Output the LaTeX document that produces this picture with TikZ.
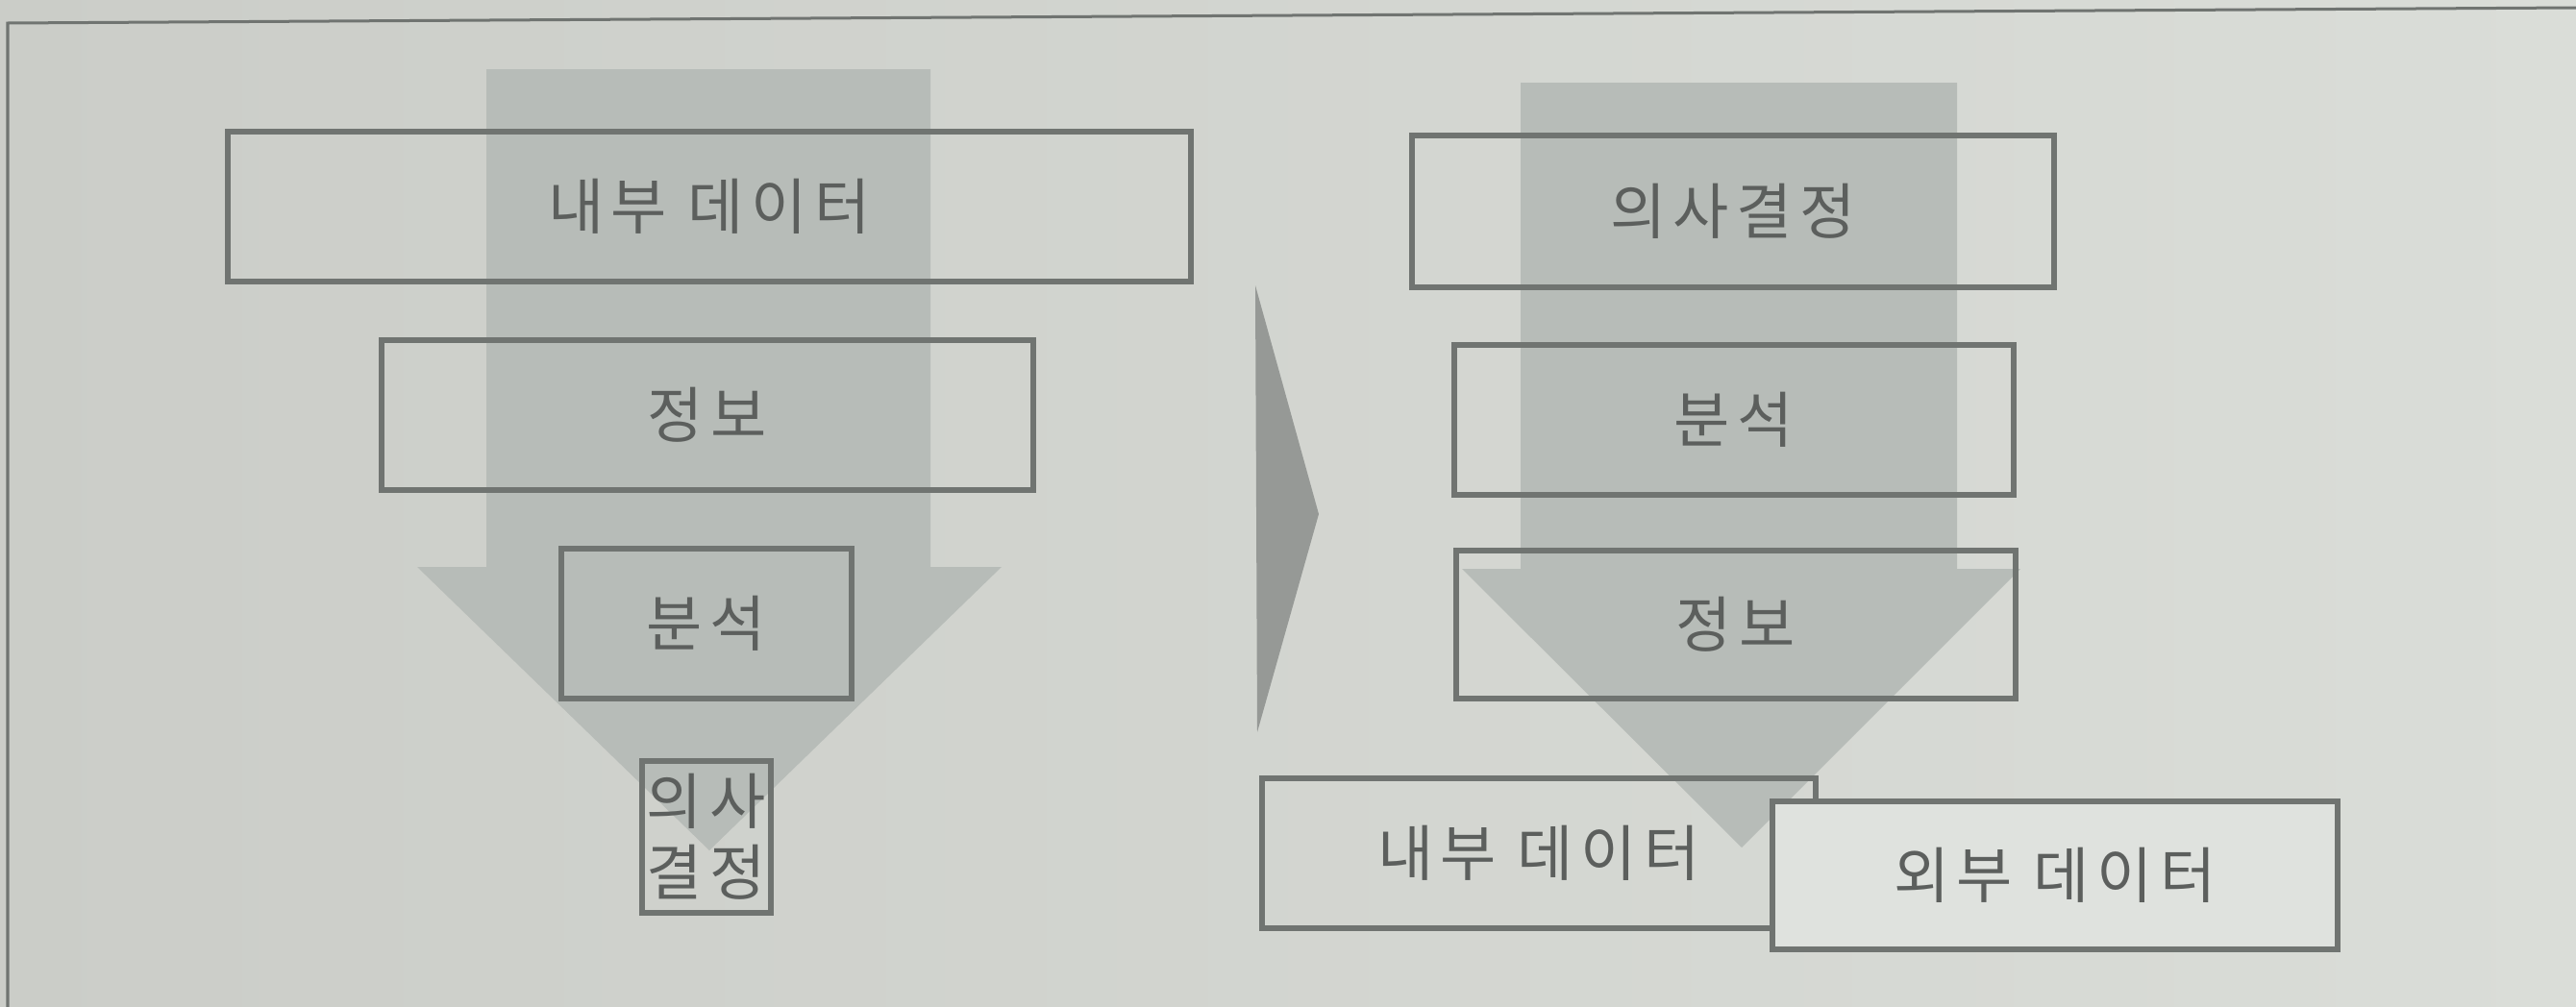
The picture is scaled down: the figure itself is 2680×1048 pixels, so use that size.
\documentclass[tikz,border=0pt]{standalone}
\usepackage{fontspec}
\newfontfamily\kr[LetterSpace=12]{Noto Sans CJK KR}
\definecolor{bgcol}{RGB}{218,221,216}
\definecolor{bgdark}{RGB}{203,205,200}
\definecolor{arrowcol}{RGB}{183,188,184}
\definecolor{tricol}{RGB}{150,153,150}
\definecolor{boxline}{RGB}{112,116,113}
\definecolor{textcol}{RGB}{92,95,93}
\definecolor{exfill}{RGB}{223,226,222}
\begin{document}
\begin{tikzpicture}[x=0.01cm, y=-0.01cm,
                box/.style={draw=boxline, line width=0.06cm, text=textcol,
                    font=\kr\fontsize{18}{21}\selectfont, inner sep=0pt, align=center},
                frameline/.style={draw=boxline, line width=0.03cm}]
                \useasboundingbox (0,0) rectangle (2680,1048);
                \shade[left color=bgdark, right color=bgcol] (0,0) rectangle (2680,1048);
                \draw[frameline] (8,1048) -- (8,24) -- (2680,8);
                
                % left: data down to decision
                \fill[arrowcol] (506,72) -- (968,72) -- (968,590) -- (1042,590)
                    -- (738,885) -- (434,590) -- (506,590) -- cycle;
                \node[box, minimum width=10.01cm, minimum height=1.55cm] (ldata) at (738,215) {내부 데이터};
                \node[box, minimum width=6.78cm, minimum height=1.56cm] (linfo) at (736,432) {정보};
                \node[box, minimum width=3.01cm, minimum height=1.56cm] (lanal) at (735,649) {분석};
                \node[box, minimum width=1.33cm, minimum height=1.57cm] (ldec) at (735,871) {의사\\결정};
                
                \fill[tricol] (1306,297) -- (1372,535) -- (1308,762) -- cycle;
                
                % right: decision down to data
                \fill[arrowcol] (1582,86) -- (2036,86) -- (2036,592) -- (2102,592)
                    -- (1812,882) -- (1521,592) -- (1582,592) -- cycle;
                \node[box, minimum width=6.68cm, minimum height=1.57cm] (rdec) at (1803,220) {의사결정};
                \node[box, minimum width=5.82cm, minimum height=1.55cm] (ranal) at (1804,437) {분석};
                \node[box, minimum width=5.81cm, minimum height=1.53cm] (rinfo) at (1806,650) {정보};
                \node[box, minimum width=5.76cm, minimum height=1.55cm] (rin) at (1601,888) {내부 데이터};
                \node[box, fill=exfill, minimum width=5.87cm, minimum height=1.54cm] (rex) at (2138,911) {외부 데이터};
            \end{tikzpicture}
\end{document}
